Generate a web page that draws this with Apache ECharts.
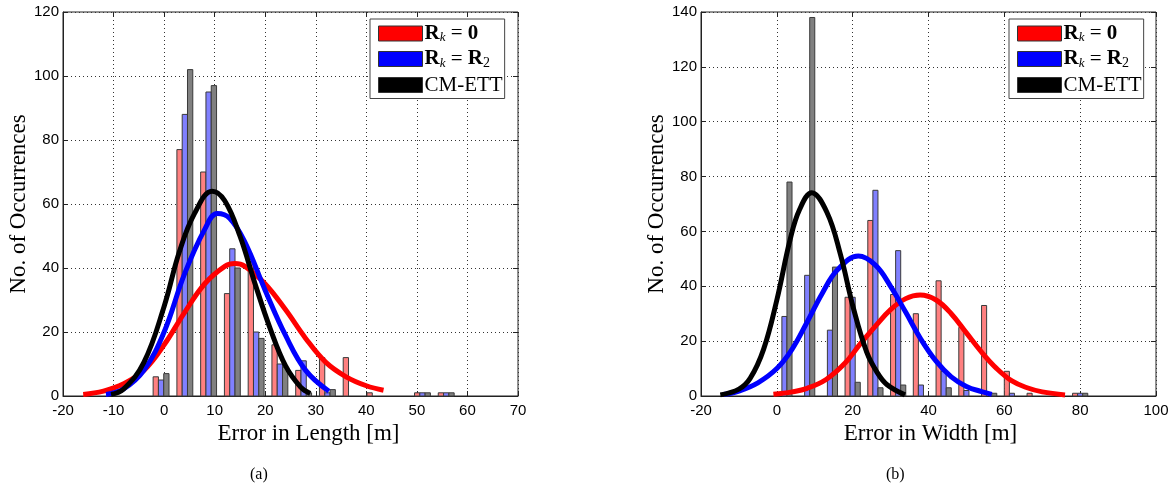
<!DOCTYPE html>
<html>
<head>
<meta charset="utf-8">
<script src="https://cdn.jsdelivr.net/npm/echarts@6/dist/echarts.min.js"></script>
<style>
  html, body { margin: 0; background: #fff; }
  #chart { width: 1172px; height: 487px; }
</style>
</head>
<body>
<div id="chart"></div>
<script>
// (a) error in length: histogram bin centres and counts
const lenCenters = [-0.6, 4.1, 8.8, 13.5, 18.2, 22.9, 27.6, 32.3, 37.0, 41.7, 46.4, 51.1, 55.8]
const lenRed = [6, 77, 70, 32, 42, 16, 8, 12, 12, 1, 0, 1, 1]
const lenBlue = [5, 88, 95, 46, 20, 10, 11, 1, 0, 0, 0, 1, 1]
const lenGray = [7, 102, 97, 40, 18, 9, 1, 2, 0, 0, 0, 1, 1]

// (a) fitted curves
const lenRedX = [-16, -12, -8, -4, 0, 4, 8, 12, 14, 16, 20, 24, 28, 32, 36, 40, 43.4]
const lenRedY = [0.5, 1.5, 3.8, 8, 16, 26, 35, 40.5, 41.4, 40.5, 35, 27, 18, 10.5, 6, 3.2, 1.8]
const lenBlueX = [-11.5, -8, -4, 0, 4, 8, 10.5, 13, 16, 20, 24, 28, 32.6]
const lenBlueY = [0.5, 2.2, 8, 20, 38, 52, 57, 55.5, 48, 33, 19, 8, 1.5]
const lenBlackX = [-10.5, -8, -4, 0, 3, 6, 9.5, 12, 15, 18, 21, 24, 27, 28.9]
const lenBlackY = [0.5, 2.2, 10.5, 28, 45, 57, 64, 61, 50, 35, 21, 9.5, 2.8, 0.8]

// (b) error in width
const widCenters = [2, 8, 14, 20, 26, 32, 38, 44, 50, 56, 62, 68, 74, 80]
const widRed = [0, 0, 0, 36, 64, 37, 30, 42, 25, 33, 9, 1, 0, 1]
const widBlue = [29, 44, 24, 36, 75, 53, 4, 9, 2, 0, 1, 0, 0, 1]
const widGray = [78, 138, 47, 5, 3, 4, 0, 3, 0, 1, 0, 0, 0, 1]

const widRedX = [-0.9, 4, 8, 13, 18, 22, 26, 30, 34, 37.8, 42, 46, 50, 54, 58, 62, 66, 70, 76]
const widRedY = [0.6, 1.5, 2.8, 6, 12, 19, 25.5, 31.5, 35.5, 36.8, 35, 30, 23, 16, 10, 5.5, 3, 1.5, 0.4]
const widBlueX = [-14, -10, -5, 0, 4, 8, 12, 16, 21.5, 26, 30, 34, 38, 42, 46, 50, 54, 56.7]
const widBlueY = [0.6, 1.8, 4.8, 10, 17, 27, 37.5, 46, 51, 47.7, 40, 30.5, 20.7, 12.7, 7, 3.5, 1.6, 0.6]
const widBlackX = [-14.9, -10, -7, -3.5, 0, 3.5, 6, 9.2, 13.2, 16.7, 20.2, 23.7, 26.5, 29, 33.8]
const widBlackY = [0.4, 2.5, 6.5, 17, 35, 57, 68, 74.1, 67, 52, 32, 16, 8.5, 4.2, 0.4]

const names = ['Rk=0', 'Rk=R2', 'CM-ETT']
const lineColors = ['#ff0000', '#0000ff', '#000000']
const barColors = ['#ff8080', '#8080ff', '#808080']

const serif = 'Liberation Serif'
const sans = 'Liberation Sans'

const pair = (xs, ys) => xs.map((x, i) => [x, ys[i]])

// grouped histogram bars, slot 0/1/2 = left/middle/right of the bin
const makeBars = (values, centers, slot, grid, binW) => ({
  type: 'custom',
  name: names[slot] + ' hist',
  xAxisIndex: grid,
  yAxisIndex: grid,
  z: 2,
  data: pair(centers, values),
  encode: { x: 0, y: 1 },
  renderItem: (params, api) => {
    const v = api.value(1)
    if (!v) return null
    const w = api.size([binW * 0.223, 0])[0]
    const base = api.coord([api.value(0), 0])
    const top = api.coord([api.value(0), v])
    return {
      type: 'rect',
      shape: { x: base[0] + (slot - 1) * w - w / 2, y: top[1], width: w, height: base[1] - top[1] },
      style: { fill: barColors[slot], stroke: '#3a3a3a', lineWidth: 1 }
    }
  }
})

const makeLine = (xs, ys, slot, grid) => ({
  type: 'line',
  name: names[slot],
  xAxisIndex: grid,
  yAxisIndex: grid,
  z: 3 + slot,
  smooth: 0.4,
  showSymbol: false,
  data: pair(xs, ys),
  itemStyle: { color: lineColors[slot] },
  lineStyle: { color: lineColors[slot], width: 5 }
})

const xMain = (grid, min, max, interval, name, pad) => ({
  type: 'value', gridIndex: grid, min, max, interval,
  name, nameLocation: 'middle', nameGap: 19,
  nameTextStyle: { fontFamily: serif, fontSize: 23, color: '#000', padding: pad },
  axisLine: { show: true, onZero: false, lineStyle: { color: '#222' } },
  axisTick: { show: true, inside: true, length: 5, lineStyle: { color: '#222' } },
  axisLabel: { fontFamily: sans, fontSize: 15, color: '#000', margin: 7 },
  splitLine: { show: true, lineStyle: { color: '#333', type: [1, 3] } }
})

const yMain = (grid, max) => ({
  type: 'value', gridIndex: grid, min: 0, max, interval: 20,
  name: 'No. of Occurrences', nameLocation: 'middle', nameGap: 30,
  nameTextStyle: { fontFamily: serif, fontSize: 23, color: '#000' },
  axisLine: { show: true, onZero: false, lineStyle: { color: '#222' } },
  axisTick: { show: true, inside: true, length: 5, lineStyle: { color: '#222' } },
  axisLabel: { fontFamily: sans, fontSize: 15, color: '#000', margin: 4 },
  splitLine: { show: true, lineStyle: { color: '#333', type: [1, 3] } }
})

// mirrored axes only carry the ticks on the top and right edges
const mirror = (base, position) => ({
  type: 'value', gridIndex: base.gridIndex, min: base.min, max: base.max, interval: base.interval,
  position,
  axisLine: { show: false, onZero: false },
  axisTick: { show: true, inside: true, length: 5, lineStyle: { color: '#222' } },
  axisLabel: { show: false },
  splitLine: { show: false }
})

const xA = xMain(0, -20, 70, 10, 'Error in Length [m]', [0, 0, 0, 36])
const xB = xMain(1, -20, 100, 20, 'Error in Width [m]', [0, 0, 0, 4])
const yA = yMain(0, 120)
const yB = yMain(1, 140)

const legendRich = {
  b: { fontFamily: serif, fontWeight: 'bold', fontSize: 21, color: '#000' },
  s: { fontFamily: serif, fontStyle: 'italic', fontSize: 13, color: '#000', verticalAlign: 'bottom', padding: [9, 0, 0, 0] },
  n: { fontFamily: serif, fontSize: 14, color: '#000', verticalAlign: 'bottom', padding: [9, 0, 0, 0] },
  t: { fontFamily: serif, fontSize: 21, color: '#000' }
}
const legendText = {
  'Rk=0': '{b|R}{s|k}{t| = }{b|0}',
  'Rk=R2': '{b|R}{s|k}{t| = }{b|R}{n|2}',
  'CM-ETT': '{t|CM-ETT}'
}
const makeLegend = (left) => ({
  left, top: 19,
  orient: 'vertical',
  data: names.map(n => ({ name: n, icon: 'rect' })),
  itemWidth: 44, itemHeight: 15, itemGap: 4,
  padding: [4, 2, 3, 8],
  backgroundColor: '#fff',
  borderColor: '#444', borderWidth: 1, borderRadius: 0,
  itemStyle: { borderColor: '#333', borderWidth: 1 },
  selectedMode: false,
  formatter: n => legendText[n],
  textStyle: { rich: legendRich, padding: [0, 0, 0, -3] }
})

const chart = echarts.init(document.getElementById('chart'))

chart.setOption({
  animation: false,
  backgroundColor: '#fff',
  grid: [
    { left: 63, top: 12, width: 455, height: 384, show: true, borderColor: '#222', borderWidth: 1, backgroundColor: '#fff' },
    { left: 701, top: 12, width: 455, height: 384, show: true, borderColor: '#222', borderWidth: 1, backgroundColor: '#fff' }
  ],
  xAxis: [xA, xB, mirror(xA, 'top'), mirror(xB, 'top')],
  yAxis: [yA, yB, mirror(yA, 'right'), mirror(yB, 'right')],
  legend: [makeLegend(370), makeLegend(1009)],
  graphic: [
    { type: 'text', left: 250, top: 467, style: { text: '(a)', font: '16px "Liberation Serif"', fill: '#000' } },
    { type: 'text', left: 886, top: 467, style: { text: '(b)', font: '16px "Liberation Serif"', fill: '#000' } }
  ],
  series: [
    makeBars(lenRed, lenCenters, 0, 0, 4.7),
    makeBars(lenBlue, lenCenters, 1, 0, 4.7),
    makeBars(lenGray, lenCenters, 2, 0, 4.7),
    makeBars(widRed, widCenters, 0, 1, 6),
    makeBars(widBlue, widCenters, 1, 1, 6),
    makeBars(widGray, widCenters, 2, 1, 6),
    makeLine(lenRedX, lenRedY, 0, 0),
    makeLine(lenBlueX, lenBlueY, 1, 0),
    makeLine(lenBlackX, lenBlackY, 2, 0),
    makeLine(widRedX, widRedY, 0, 1),
    makeLine(widBlueX, widBlueY, 1, 1),
    makeLine(widBlackX, widBlackY, 2, 1)
  ]
})

window.addEventListener('resize', () => chart.resize())
</script>
</body>
</html>
